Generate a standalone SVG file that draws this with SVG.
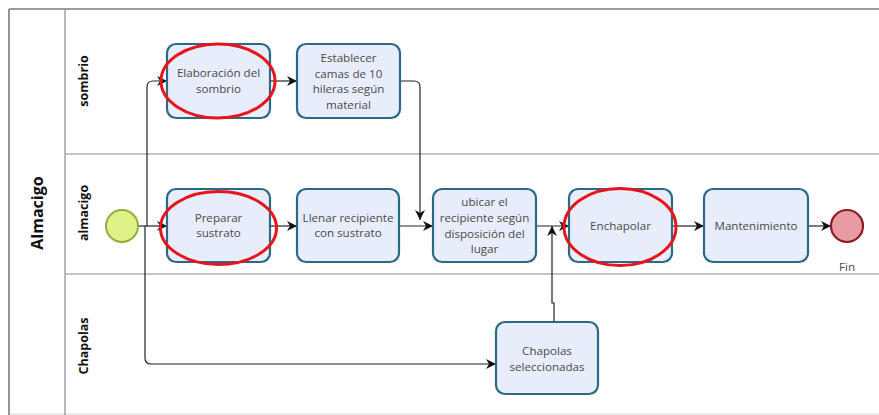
<svg xmlns="http://www.w3.org/2000/svg" width="879" height="415" viewBox="0 0 879 415">
  <defs>
    <marker id="arrow" viewBox="0 0 10 10" refX="10" refY="5" markerWidth="10" markerHeight="10" markerUnits="userSpaceOnUse" orient="auto">
      <path d="M0,0 L10,5 L0,10 L3,5 z" fill="#111"/>
    </marker>
  </defs>
  <style>
    .pool { stroke: #7a7a7a; stroke-width: 1.6; fill: none; }
    .lane { stroke: #8a8a8a; stroke-width: 1.2; fill: none; }
    .task { fill: #e8edfb; stroke: #2a6a85; stroke-width: 2.2; }
    .txt { font-family: "Open Sans", "Noto Sans", sans-serif; font-size: 11.6px; fill: #4a4a4a; text-anchor: middle; }
    .lbl { font-family: "Open Sans", "Noto Sans", sans-serif; font-size: 12.5px; font-weight: bold; fill: #111; text-anchor: middle; }
    .flow { fill: none; stroke: #222; stroke-width: 1.2; marker-end: url(#arrow); }
    .mark { fill: none; stroke: #e8141b; stroke-width: 3; }
  </style>

  <rect width="879" height="415" fill="#ffffff"/>

  <!-- pool and lanes -->
  <g id="pool">
    <line class="pool" x1="9" y1="9" x2="879" y2="9"/>
    <line class="pool" x1="9" y1="9" x2="9" y2="415"/>
    <line class="lane" x1="65" y1="9" x2="65" y2="415"/>
    <line class="lane" x1="65" y1="154" x2="879" y2="154"/>
    <line class="lane" x1="65" y1="274" x2="879" y2="274"/>
    <line class="lane" x1="9" y1="414" x2="879" y2="414" stroke-opacity="0.35"/>
    <text class="lbl" style="font-size:16px" transform="translate(43,213) rotate(-90)">Almacigo</text>
    <text class="lbl" transform="translate(88,81) rotate(-90)">sombrio</text>
    <text class="lbl" transform="translate(88,213) rotate(-90)">almacigo</text>
    <text class="lbl" transform="translate(88,346) rotate(-90)">Chapolas</text>
  </g>

  <!-- sequence flows -->
  <g id="connectors">
    <path class="flow" d="M138,226 H167"/>
    <path class="flow" d="M147,226 V87 Q147,81 153,81 H167"/>
    <path class="flow" d="M145,226 V358 Q145,364 151,364 H496"/>
    <path class="flow" d="M270,81 H297"/>
    <path class="flow" d="M400,81 H414 Q420,81 420,87 V220"/>
    <path class="flow" d="M270,226 H297"/>
    <path class="flow" d="M399,226 H433"/>
    <path class="flow" d="M536,226 H569"/>
    <path class="flow" d="M554,322 V303 H552 V226"/>
    <path class="flow" d="M672,226 H704"/>
    <path class="flow" d="M808,226 H831"/>
  </g>

  <g id="start">
    <circle cx="122" cy="226" r="16" fill="#dff28a" stroke="#8fb03a" stroke-width="2"/>
  </g>

  <g id="elaboracion">
    <rect class="task" x="167" y="44" width="103" height="74" rx="9"/>
    <text class="txt"><tspan x="218.5" y="77">Elaboración del</tspan><tspan x="218.5" y="93">sombrio</tspan></text>
  </g>

  <g id="establecer">
    <rect class="task" x="297" y="44" width="103" height="74" rx="9"/>
    <text class="txt"><tspan x="348.5" y="62">Establecer</tspan><tspan x="348.5" y="77.5">camas de 10</tspan><tspan x="348.5" y="93">hileras según</tspan><tspan x="348.5" y="108.5">material</tspan></text>
  </g>

  <g id="preparar">
    <rect class="task" x="167" y="189" width="103" height="73" rx="9"/>
    <text class="txt"><tspan x="218.5" y="222">Preparar</tspan><tspan x="218.5" y="237">sustrato</tspan></text>
  </g>

  <g id="llenar">
    <rect class="task" x="297" y="189" width="102" height="73" rx="9"/>
    <text class="txt"><tspan x="348" y="222">Llenar recipiente</tspan><tspan x="348" y="237">con sustrato</tspan></text>
  </g>

  <g id="ubicar">
    <rect class="task" x="433" y="189" width="103" height="73" rx="9"/>
    <text class="txt"><tspan x="484.5" y="206">ubicar el</tspan><tspan x="484.5" y="222">recipiente según</tspan><tspan x="484.5" y="237.5">disposición del</tspan><tspan x="484.5" y="253">lugar</tspan></text>
  </g>

  <g id="enchapolar">
    <rect class="task" x="569" y="189" width="103" height="73" rx="9"/>
    <text class="txt" x="620.5" y="230">Enchapolar</text>
  </g>

  <g id="mantenimiento">
    <rect class="task" x="704" y="189" width="104" height="73" rx="9"/>
    <text class="txt" x="756" y="230">Mantenimiento</text>
  </g>

  <g id="fin">
    <circle cx="847" cy="226" r="16" fill="#e89ca2" stroke="#8a1c22" stroke-width="2.2"/>
    <text class="txt" x="847" y="271">Fin</text>
  </g>

  <g id="chapolas-seleccionadas">
    <rect class="task" x="496" y="322" width="102" height="72" rx="9"/>
    <text class="txt"><tspan x="547" y="355">Chapolas</tspan><tspan x="547" y="371">seleccionadas</tspan></text>
  </g>

  <!-- highlight rings -->
  <g id="highlights">
    <ellipse class="mark" cx="218" cy="81" rx="57" ry="37"/>
    <ellipse class="mark" cx="218.5" cy="228" rx="58" ry="36.5"/>
    <ellipse class="mark" cx="620" cy="227" rx="56" ry="38.5"/>
  </g>
</svg>
